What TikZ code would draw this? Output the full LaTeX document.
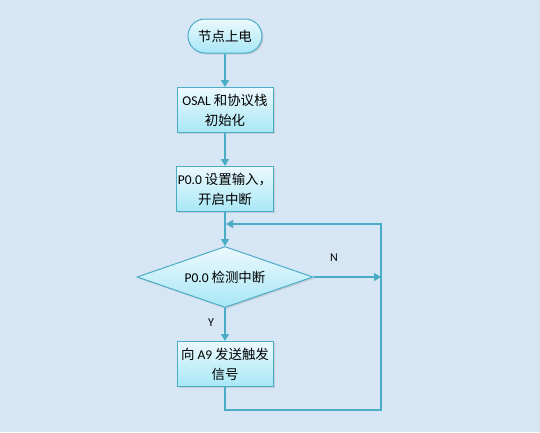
\documentclass[tikz,border=0pt]{standalone}
\usepackage{fontspec}
\newfontfamily\cjk{Noto Sans CJK SC}
\newfontfamily\lat{Carlito}
\usetikzlibrary{arrows.meta,shapes.geometric,shadows}
\definecolor{bgblue}{HTML}{D7E6F4}
\definecolor{edgeblue}{HTML}{4BACC6}
\definecolor{filltop}{HTML}{ECF9FD}
\definecolor{fillbot}{HTML}{A8E7F6}
\begin{document}
\begin{tikzpicture}[x=1bp, y=-1bp,
        every node/.style={font=\cjk\fontsize{13.5}{20}\selectfont, text=black},
        procbox/.style={rectangle, draw=edgeblue, line width=1bp, top color=filltop, bottom color=fillbot,
            minimum width=96bp, minimum height=45bp, inner sep=1bp, align=center,
            drop shadow={opacity=0.25, shadow xshift=1.5bp, shadow yshift=-1.5bp}},
        startbox/.style={procbox, rounded corners=17bp, minimum width=74bp, minimum height=34bp},
        testbox/.style={procbox, diamond, aspect=2.9, minimum width=176bp, minimum height=61bp, inner sep=0bp},
        link/.style={draw=edgeblue, line width=1.2bp, -{Triangle[width=8bp,length=7bp]}},
        tag/.style={font=\lat\fontsize{12}{14}\selectfont}]
        \fill[bgblue] (0, 0) rectangle (540, 432);

        \node[startbox] (power) at (225, 36) {节点上电};
        \node[procbox] (init) at (225, 110) {{\lat OSAL} 和协议栈\\初始化};
        \node[procbox] (irqset) at (225, 189) {{\lat P0.0} 设置输入，\\开启中断};
        \node[testbox] (check) at (225, 277) {{\lat P0.0} 检测中断};
        \node[procbox] (trigger) at (225, 364) {向 {\lat A9} 发送触发\\信号};

        \coordinate (rightin) at (381, 277);
        \coordinate (loopbot) at (381, 410);
        \coordinate (looptop) at (381, 224);
        \coordinate (join) at (226, 224);

        \draw[link] (power) -- (init);
        \draw[link] (init) -- (irqset);
        \draw[link] (irqset) -- (check);
        \draw[link] (check) -- (trigger);
        \draw[link] (check.east) -- (rightin);
        \draw[link] (trigger.south) |- (loopbot) -- (looptop) -- (join);

        \node[tag] (no) at (334, 258) {N};
        \node[tag] (yes) at (211, 323) {Y};
      \end{tikzpicture}
\end{document}
